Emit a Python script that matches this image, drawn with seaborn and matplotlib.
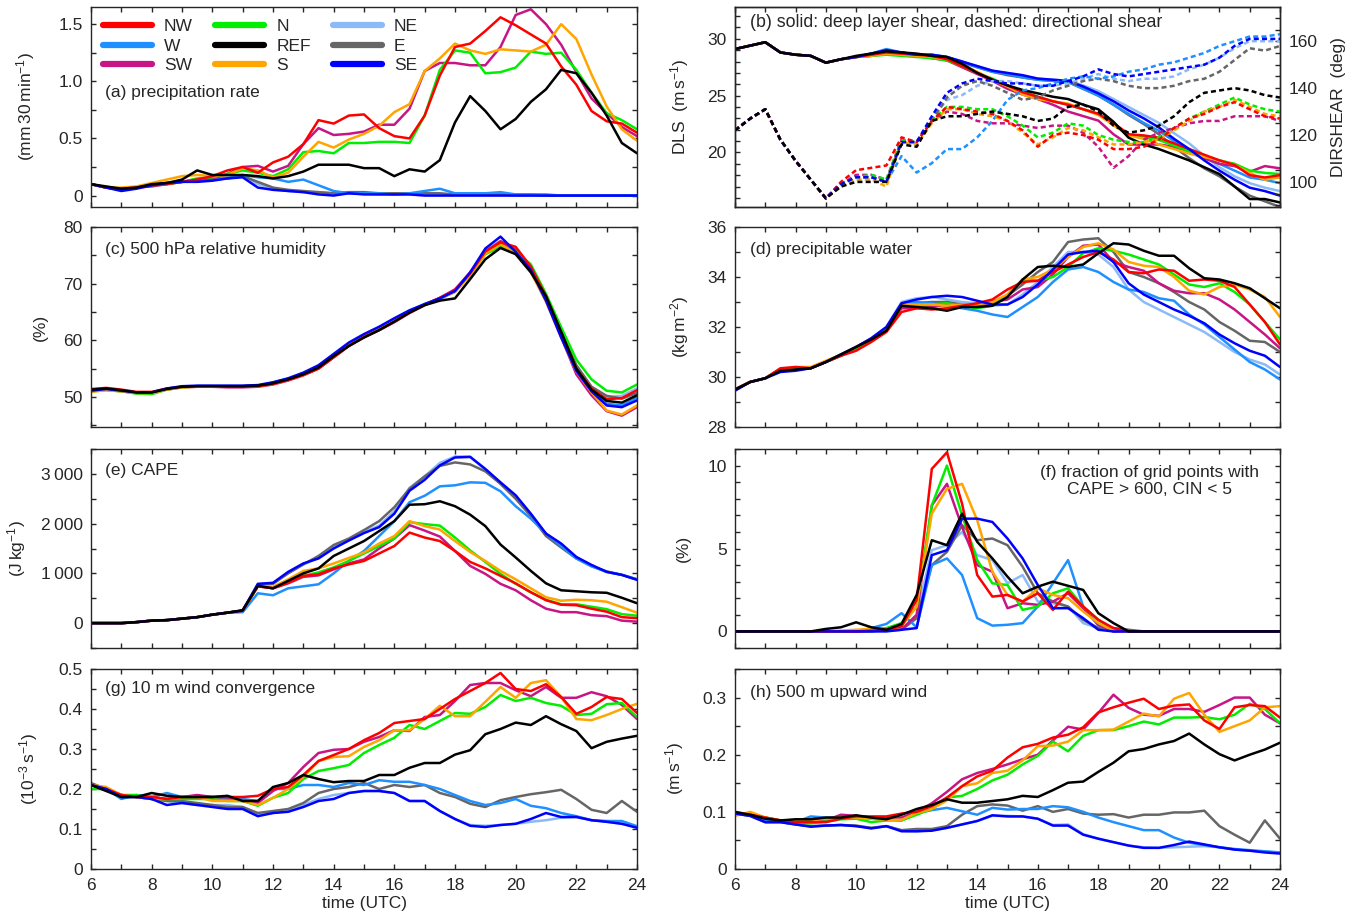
import numpy as np
import pandas as pd
import matplotlib
matplotlib.use('Agg')
import matplotlib.pyplot as plt
from matplotlib.ticker import MultipleLocator, FuncFormatter
from matplotlib.lines import Line2D
import seaborn as sns

sns.set_style('ticks')
plt.rcParams['font.family'] = ['Liberation Sans', 'DejaVu Sans']
plt.rcParams['mathtext.default'] = 'regular'
plt.rcParams['font.size'] = 12
plt.rcParams['axes.linewidth'] = 1.0

# time axis, 30 min output
time = np.arange(6.0, 24.01, 0.5)

exps = ['NW', 'W', 'SW', 'N', 'REF', 'S', 'NE', 'E', 'SE']
draw_order = ['NE', 'E', 'W', 'SW', 'N', 'S', 'NW', 'SE', 'REF']
colors = {'NW': '#ff0000', 'W': '#1e90ff', 'SW': '#c71585', 'N': '#00ee00',
          'REF': '#000000', 'S': '#ffa500', 'NE': '#8cbaf8', 'E': '#666666',
          'SE': '#0000ff'}

# (a) precipitation rate (mm / 30 min)
prec_NW = [0.10,0.07,0.06,0.07,0.09,0.10,0.12,0.14,0.17,0.22, 0.25,0.20,0.29,0.34,0.45,0.66,0.63,0.70,0.71,0.59, 0.52,0.50,0.70,1.05,1.30,1.33,1.44,1.56,1.49,1.41, 1.33,1.13,0.97,0.74,0.65,0.63,0.55]
prec_W = [0.10,0.07,0.05,0.07,0.10,0.11,0.12,0.13,0.14,0.15, 0.18,0.16,0.15,0.12,0.14,0.09,0.04,0.02,0.02,0.02, 0.01,0.02,0.04,0.06,0.02,0.02,0.02,0.03,0.01,0.01, 0.01,0.0,0.0,0.0,0.0,0.0,0.0]
prec_SW = [0.10,0.07,0.06,0.07,0.08,0.10,0.12,0.14,0.15,0.19, 0.25,0.26,0.21,0.26,0.45,0.59,0.53,0.54,0.56,0.62, 0.62,0.76,1.09,1.16,1.16,1.14,1.14,1.30,1.58,1.63, 1.50,1.32,1.08,0.85,0.72,0.60,0.52]
prec_N = [0.10,0.07,0.06,0.07,0.09,0.10,0.12,0.15,0.16,0.19, 0.22,0.20,0.17,0.23,0.38,0.39,0.37,0.46,0.46,0.47, 0.47,0.46,0.70,1.10,1.27,1.25,1.07,1.08,1.12,1.26, 1.24,1.25,1.10,0.90,0.72,0.66,0.58]
prec_REF = [0.10,0.08,0.06,0.07,0.10,0.11,0.14,0.22,0.18,0.18, 0.18,0.17,0.15,0.17,0.21,0.27,0.27,0.27,0.24,0.24, 0.17,0.23,0.21,0.31,0.64,0.87,0.74,0.58,0.67,0.82, 0.93,1.10,1.07,0.90,0.70,0.46,0.37]
prec_S = [0.10,0.07,0.07,0.08,0.11,0.14,0.17,0.18,0.17,0.18, 0.24,0.22,0.16,0.20,0.34,0.47,0.42,0.49,0.54,0.61, 0.73,0.80,1.09,1.20,1.33,1.27,1.24,1.28,1.27,1.26, 1.32,1.50,1.37,1.06,0.78,0.58,0.48]
prec_NE = [0.10,0.07,0.05,0.07,0.10,0.11,0.12,0.13,0.15,0.16, 0.18,0.10,0.06,0.04,0.03,0.03,0.02,0.02,0.02,0.01, 0.01,0.01,0.01,0.01,0.01,0.01,0.01,0.01,0.0,0.0, 0.0,0.0,0.0,0.0,0.0,0.0,0.0]
prec_E = [0.10,0.07,0.05,0.07,0.10,0.11,0.12,0.13,0.14,0.15, 0.17,0.12,0.07,0.05,0.04,0.03,0.02,0.03,0.03,0.02, 0.02,0.02,0.02,0.02,0.01,0.01,0.01,0.01,0.01,0.01, 0.0,0.0,0.0,0.0,0.0,0.0,0.0]
prec_SE = [0.10,0.07,0.04,0.06,0.09,0.11,0.12,0.12,0.13,0.15, 0.16,0.07,0.05,0.04,0.03,0.01,0.00,0.02,0.01,0.01, 0.01,0.01,0.0,0.0,0.0,0.0,0.0,0.0,0.0,0.0, 0.0,0.0,0.0,0.0,0.0,0.0,0.0]

# (b) deep layer shear (m/s)
dls_NW = [29.1,29.4,29.7,28.8,28.6,28.5,27.9,28.2,28.4,28.6, 28.8,28.7,28.6,28.5,28.2,27.6,27.0,26.4,25.9,25.3, 24.9,24.5,24.2,23.8,23.4,22.6,21.6,21.5,21.3,20.8, 20.3,19.8,19.3,18.9,18.0,17.8,18.0]
dls_W = [29.1,29.4,29.7,28.8,28.6,28.5,27.9,28.2,28.4,28.7, 29.1,28.8,28.6,28.6,28.4,28.0,27.5,27.1,26.9,26.6, 26.4,26.3,26.2,25.6,25.0,24.2,23.4,22.6,21.9,21.0, 20.0,19.5,19.0,18.4,17.8,17.6,17.3]
dls_SW = [29.1,29.4,29.7,28.8,28.6,28.5,27.9,28.2,28.4,28.5, 28.7,28.6,28.5,28.3,28.1,27.5,26.9,26.3,25.6,25.1, 24.7,24.2,23.6,23.2,22.8,21.6,20.7,20.7,20.7,20.5, 20.1,19.5,19.0,18.8,18.3,18.8,18.6]
dls_N = [29.1,29.4,29.7,28.8,28.6,28.5,27.9,28.2,28.4,28.5, 28.6,28.5,28.4,28.3,28.1,27.6,27.0,26.5,25.9,25.4, 24.9,24.5,24.2,23.8,23.4,22.5,21.5,21.4,21.1,20.6, 20.1,19.7,19.3,19.0,18.4,18.2,18.1]
dls_REF = [29.1,29.4,29.7,28.8,28.6,28.5,27.9,28.2,28.5,28.7, 28.9,28.8,28.7,28.5,28.4,27.8,27.0,26.4,25.9,25.5, 25.2,24.9,24.7,24.2,23.8,22.7,21.3,20.7,20.3,19.8, 19.3,18.7,18.1,17.0,15.9,15.9,15.6]
dls_S = [29.1,29.4,29.7,28.8,28.6,28.5,27.9,28.2,28.4,28.5, 28.7,28.6,28.5,28.4,28.2,27.7,27.1,26.4,25.8,25.1, 24.7,24.5,24.3,23.8,23.3,22.4,21.5,21.2,20.7,20.3, 19.9,19.6,19.3,18.9,18.2,17.6,17.8]
dls_NE = [29.1,29.4,29.7,28.8,28.6,28.5,27.9,28.2,28.4,28.7, 29.0,28.8,28.6,28.6,28.4,28.0,27.6,27.2,26.9,26.7, 26.5,26.4,26.3,25.9,25.4,24.7,24.0,23.3,22.6,21.7, 20.8,19.7,18.7,17.9,17.3,16.9,16.6]
dls_E = [29.1,29.4,29.7,28.8,28.6,28.5,27.9,28.2,28.4,28.6, 28.9,28.8,28.6,28.5,28.3,27.9,27.5,27.1,26.8,26.6, 26.4,26.3,26.2,25.6,25.0,24.2,23.3,22.5,21.6,20.5, 19.5,18.6,17.9,17.0,16.2,15.7,15.2]
dls_SE = [29.1,29.4,29.7,28.8,28.6,28.5,27.9,28.2,28.4,28.7, 29.0,28.8,28.6,28.6,28.4,28.0,27.6,27.2,27.0,26.8, 26.5,26.4,26.3,25.8,25.2,24.5,23.7,23.0,22.2,21.2, 20.3,19.3,18.4,17.6,16.9,16.6,16.2]

# (b) directional shear (deg), right axis
dir_NW = [122,127,131,118,109,101,93,100,105,106, 107,119,117,126,132,131,130,129,126,122, 115,120,121,120,118,114,114,115,118,123, 127,129,132,134,131,128,127]
dir_W = [122,127,131,118,109,101,93,99,102,102, 100,111,104,108,114,114,119,126,135,139, 140,142,144,145,144,145,147,148,150,151, 153,155,158,160,162,162,163]
dir_SW = [122,127,131,118,109,101,93,99,103,103, 101,118,117,126,130,129,126,125,125,124, 123,124,124,121,115,106,111,118,121,123, 125,126,126,128,128,128,126]
dir_N = [122,127,131,118,109,101,93,99,102,103, 101,118,117,126,132,132,131,131,128,124, 119,121,125,124,120,118,117,117,119,123, 127,130,133,136,133,131,130]
dir_REF = [122,127,131,118,109,101,93,98,100,100, 100,116,115,126,128,128,129,130,129,128, 126,127,132,133,130,124,121,122,124,128, 134,138,139,140,139,137,136]
dir_S = [122,127,131,118,109,101,93,98,101,101, 98,117,116,125,131,131,129,128,126,121, 116,119,123,122,119,116,116,117,118,122, 126,130,132,135,132,129,128]
dir_NE = [122,127,131,118,109,101,93,99,102,102, 100,117,117,127,135,137,141,143,143,142, 141,141,142,144,146,144,143,144,144,145, 148,150,153,157,160,160,160]
dir_E = [122,127,131,118,109,101,93,99,102,102, 100,117,117,126,136,141,143,141,138,135, 136,139,141,143,144,143,141,140,140,141, 143,144,147,152,157,156,158]
dir_SE = [122,127,131,118,109,101,93,99,102,102, 100,117,117,128,138,142,144,143,142,142, 141,141,143,145,148,146,145,146,147,148, 149,150,153,158,161,161,161]

# (c) 500 hPa relative humidity (%)
rh_NW = [51.4,51.6,51.3,50.9,50.9,51.5,51.8,51.9,51.9,51.8, 51.8,51.9,52.3,53.0,53.9,55.0,57.0,59.0,60.6,61.8, 63.3,64.9,66.3,67.5,68.8,71.8,75.7,77.3,76.5,73.0, 67.8,61.3,55.0,51.5,49.6,49.8,51.2]
rh_W = [51.0,51.3,51.0,50.7,50.7,51.4,51.8,51.9,51.9,51.9, 51.9,52.0,52.5,53.2,54.1,55.3,57.3,59.3,60.8,62.1, 63.6,65.1,66.4,67.3,68.6,71.8,75.5,76.4,75.3,72.5, 67.3,60.8,54.7,51.0,48.8,48.5,49.9]
rh_SW = [51.2,51.4,51.1,50.8,50.8,51.3,51.7,51.8,51.8,51.7, 51.7,51.8,52.2,52.9,53.8,55.0,57.0,59.0,60.5,61.8, 63.2,64.8,66.2,67.5,69.0,72.0,75.6,77.5,76.0,72.4, 67.0,60.6,54.0,50.3,47.5,46.7,48.2]
rh_N = [51.0,51.2,51.0,50.6,50.5,51.3,51.7,51.9,51.9,51.9, 51.9,52.0,52.4,53.1,54.0,55.2,57.2,59.1,60.6,61.9, 63.4,65.0,66.3,67.4,68.6,71.5,75.2,76.5,75.7,73.4, 68.2,62.3,56.6,53.1,51.1,50.8,52.2]
rh_REF = [51.3,51.5,51.2,50.8,50.8,51.4,51.8,51.9,51.9,51.9, 51.9,52.0,52.4,53.1,54.0,55.2,57.2,59.0,60.5,61.8, 63.3,64.9,66.2,67.0,67.4,70.8,74.3,76.3,75.2,72.0, 67.8,61.5,55.0,51.3,49.3,49.0,50.3]
rh_S = [50.9,51.2,51.0,50.7,50.7,51.3,51.7,51.8,51.8,51.8, 51.8,51.9,52.3,53.0,53.9,55.1,57.1,59.1,60.6,61.9, 63.4,65.0,66.3,67.5,68.5,71.5,75.3,77.0,75.3,72.0, 66.8,60.5,54.5,50.8,47.6,46.9,48.5]
rh_NE = [51.2,51.4,51.1,50.8,50.8,51.4,51.8,51.9,51.9,51.9, 51.9,52.0,52.5,53.2,54.1,55.3,57.3,59.2,60.8,62.1, 63.6,65.1,66.3,67.4,68.7,71.8,75.8,77.5,75.8,72.8, 67.6,61.3,55.5,51.8,50.0,50.2,51.5]
rh_E = [51.2,51.4,51.1,50.8,50.8,51.4,51.8,51.9,51.9,51.9, 51.9,52.0,52.5,53.2,54.1,55.3,57.3,59.2,60.8,62.1, 63.6,65.1,66.3,67.4,68.7,71.6,75.5,77.0,75.6,72.6, 67.8,61.6,55.6,51.8,50.2,49.7,50.7]
rh_SE = [51.1,51.4,51.1,50.8,50.8,51.5,51.9,52.0,52.0,52.0, 52.0,52.1,52.6,53.3,54.3,55.6,57.6,59.6,61.1,62.4, 63.9,65.3,66.4,67.4,68.7,72.0,76.2,78.3,75.6,72.4, 67.0,60.5,54.6,51.0,48.5,48.2,49.4]

# (d) precipitable water (kg m-2)
pw_NW = [29.5,29.8,29.95,30.35,30.4,30.35,30.6,30.85,31.05,31.4, 31.8,32.6,32.75,32.7,32.75,32.85,32.95,33.1,33.5,33.8, 33.85,34.2,34.5,34.8,35.0,34.7,34.2,34.15,34.3,34.25, 33.85,33.9,33.85,33.6,32.9,32.2,31.3]
pw_W = [29.5,29.8,29.95,30.3,30.35,30.35,30.6,30.9,31.2,31.5, 31.9,32.9,33.0,32.95,32.85,32.75,32.65,32.5,32.4,32.8, 33.2,33.8,34.3,34.4,34.2,33.8,33.5,33.4,33.15,33.05, 32.5,32.1,31.6,31.1,30.6,30.3,29.9]
pw_SW = [29.5,29.8,29.95,30.3,30.35,30.35,30.6,30.85,31.15,31.45, 31.85,32.75,32.75,32.8,32.9,32.9,32.9,33.0,33.1,33.5, 33.6,34.1,34.8,35.25,35.3,34.6,34.4,34.25,33.75,33.45, 33.35,33.35,33.1,32.7,32.2,31.7,31.15]
pw_N = [29.5,29.8,29.95,30.3,30.35,30.35,30.6,30.85,31.15,31.45, 31.85,32.85,32.85,32.9,32.95,32.85,32.75,32.85,33.3,33.9, 33.85,34.0,34.4,34.95,35.15,35.05,34.9,34.7,34.5,34.1, 33.7,33.6,33.75,33.4,32.9,32.2,31.5]
pw_REF = [29.5,29.8,29.95,30.25,30.3,30.35,30.6,30.9,31.2,31.5, 31.85,32.85,32.8,32.75,32.65,32.8,32.8,32.85,33.2,33.9, 34.4,34.45,34.4,34.5,34.95,35.35,35.3,35.05,34.85,34.85, 34.35,33.95,33.9,33.75,33.55,33.15,32.75]
pw_S = [29.5,29.8,29.95,30.3,30.4,30.4,30.65,30.9,31.2,31.5, 31.85,32.9,32.9,32.9,32.85,32.9,32.9,33.0,33.3,33.9, 34.0,34.3,34.8,35.2,35.35,35.1,34.6,34.45,34.4,34.0, 33.45,33.3,33.6,33.7,33.5,33.2,32.4]
pw_NE = [29.5,29.8,29.95,30.3,30.3,30.35,30.6,30.9,31.2,31.55, 32.0,33.0,33.15,33.2,33.1,33.0,32.95,32.85,32.9,33.3, 33.8,34.4,35.0,35.0,34.9,34.4,33.5,33.0,32.7,32.4, 32.1,31.8,31.4,31.0,30.7,30.5,30.1]
pw_E = [29.5,29.8,29.95,30.3,30.35,30.35,30.6,30.9,31.2,31.5, 31.9,32.9,32.95,33.0,33.0,32.9,32.85,33.0,33.25,33.7, 34.2,34.6,35.4,35.5,35.55,35.0,34.2,34.0,33.75,33.4, 33.0,32.7,32.2,31.85,31.45,31.4,31.0]
pw_SE = [29.45,29.8,29.95,30.2,30.25,30.35,30.6,30.9,31.2,31.55, 32.0,32.95,33.1,33.2,33.25,33.2,33.05,32.9,32.9,33.2, 33.7,34.3,34.9,35.0,35.05,34.6,33.75,33.3,33.0,32.7, 32.45,32.15,31.7,31.35,31.05,30.85,30.4]

# (e) CAPE (J/kg)
cape_NW = [0,0,0,20,50,60,90,120,170,210, 250,740,700,810,950,980,1100,1180,1250,1400, 1550,1820,1720,1650,1450,1230,1100,950,800,620, 460,370,360,290,230,120,100]
cape_W = [0,0,0,20,50,60,90,120,170,210, 220,600,560,700,740,780,1000,1250,1450,1750, 2050,2430,2560,2750,2770,2830,2820,2650,2350,2100, 1800,1550,1300,1140,1030,970,880]
cape_SW = [0,0,0,20,50,60,90,120,170,210, 250,740,700,800,930,960,1080,1200,1280,1500, 1700,1970,1860,1740,1450,1150,990,790,660,460, 290,220,220,160,140,50,30]
cape_N = [0,0,0,20,50,60,90,120,170,210, 250,740,720,820,950,1020,1120,1250,1400,1550, 1700,2030,1990,1960,1720,1460,1230,990,790,620, 470,380,380,330,280,180,150]
cape_REF = [0,0,0,20,50,60,90,120,170,210, 260,750,700,850,1000,1100,1350,1500,1650,1850, 2050,2380,2390,2450,2350,2180,1950,1580,1320,1050, 800,660,640,620,610,510,400]
cape_S = [0,0,0,20,50,60,90,120,170,210, 250,740,730,880,1050,1100,1200,1310,1420,1600, 1750,2050,1950,1880,1650,1430,1250,1050,880,700, 520,450,470,460,430,320,210]
cape_NE = [0,0,0,20,50,60,90,120,170,210, 250,780,800,1010,1180,1310,1520,1680,1830,1960, 2250,2720,2950,3220,3350,3350,3080,2800,2520,2180, 1780,1580,1320,1160,1030,970,880]
cape_E = [0,0,0,20,50,60,90,120,170,210, 250,770,790,1000,1180,1350,1570,1700,1870,2050, 2330,2700,2950,3160,3230,3190,3050,2800,2500,2150, 1750,1520,1300,1150,1040,970,880]
cape_SE = [0,0,0,20,50,60,90,120,170,210, 250,790,810,1030,1200,1300,1500,1660,1810,1930, 2200,2660,2880,3170,3330,3340,3100,2830,2570,2200, 1800,1600,1330,1170,1030,970,870]

# (f) fraction of grid points with CAPE > 600, CIN < 5 (%)
frac_NW = [0,0,0,0,0,0,0,0,0,0.05, 0.1,0.3,1.9,9.8,10.8,7.7,3.4,2.1,2.2,1.8, 2.3,1.3,2.4,1.5,0.7,0.2,0,0,0,0, 0,0,0,0,0,0,0]
frac_W = [0,0,0,0,0,0,0,0,0,0.2, 0.45,1.1,0.25,4.0,4.4,3.4,0.8,0.35,0.4,0.5, 1.5,2.9,4.3,1.5,0.35,0,0,0,0,0, 0,0,0,0,0,0,0]
frac_SW = [0,0,0,0,0,0,0,0,0,0.05, 0.05,0.1,1.0,7.6,8.9,6.3,4.0,3.6,1.4,1.7, 1.6,1.8,2.3,1.4,0.4,0,0,0,0,0, 0,0,0,0,0,0,0]
frac_N = [0,0,0,0,0,0,0,0,0.05,0.1, 0.2,0.5,1.5,7.6,10.0,7.0,4.3,2.9,2.8,1.3, 1.5,2.3,2.6,1.5,0.7,0.1,0,0,0,0, 0,0,0,0,0,0,0]
frac_REF = [0,0,0,0,0,0,0.15,0.25,0.55,0.25, 0.1,0.45,2.2,5.5,5.2,7.1,5.4,4.4,3.3,2.3, 2.7,3.0,2.75,2.5,1.1,0.5,0,0,0,0, 0,0,0,0,0,0,0]
frac_S = [0,0,0,0,0,0,0,0.05,0.1,0.15, 0.1,0.3,1.5,7.1,8.6,8.9,6.7,3.6,2.2,1.8, 2.6,2.2,2.0,1.2,0.5,0.05,0,0,0,0, 0,0,0,0,0,0,0]
frac_NE = [0,0,0,0,0,0,0,0,0,0, 0.1,0.1,1.0,4.9,5.2,6.0,4.6,4.3,2.9,3.4, 1.8,1.7,1.5,0.5,0.2,0,0,0,0,0, 0,0,0,0,0,0,0]
frac_E = [0,0,0,0,0,0,0,0,0,0, 0.1,0.1,0.8,4.0,4.8,6.4,5.5,5.6,5.2,3.9, 2.3,1.8,1.5,0.7,0.2,0.2,0.1,0,0,0, 0,0,0,0,0,0,0]
frac_SE = [0,0,0,0,0,0,0,0,0,0, 0,0.1,0.2,4.6,4.9,6.8,6.8,6.6,5.6,4.4, 2.8,1.4,1.4,0.8,0.1,0,0,0,0,0, 0,0,0,0,0,0,0]

# (g) 10 m wind convergence (1e-3 /s)
conv_NW = [0.21,0.20,0.185,0.18,0.18,0.175,0.18,0.18,0.18,0.18, 0.18,0.183,0.20,0.205,0.235,0.27,0.285,0.30,0.322,0.34, 0.365,0.37,0.375,0.40,0.425,0.445,0.465,0.49,0.45,0.445, 0.462,0.43,0.388,0.405,0.43,0.425,0.39]
conv_W = [0.21,0.20,0.175,0.185,0.18,0.19,0.18,0.18,0.18,0.175, 0.175,0.17,0.20,0.20,0.21,0.21,0.205,0.215,0.21,0.222, 0.218,0.218,0.21,0.20,0.185,0.17,0.16,0.165,0.175,0.158, 0.152,0.14,0.132,0.122,0.12,0.12,0.107]
conv_SW = [0.21,0.20,0.185,0.18,0.18,0.175,0.18,0.185,0.18,0.18, 0.17,0.165,0.195,0.215,0.255,0.29,0.298,0.30,0.318,0.33, 0.347,0.345,0.38,0.385,0.42,0.46,0.465,0.465,0.447,0.432, 0.455,0.428,0.428,0.442,0.432,0.41,0.375]
conv_N = [0.20,0.20,0.185,0.185,0.175,0.175,0.175,0.175,0.175,0.17, 0.17,0.158,0.178,0.19,0.225,0.245,0.252,0.26,0.29,0.31, 0.328,0.36,0.35,0.37,0.39,0.388,0.405,0.435,0.42,0.428, 0.415,0.408,0.385,0.388,0.412,0.415,0.38]
conv_REF = [0.21,0.195,0.18,0.18,0.19,0.183,0.18,0.18,0.18,0.183, 0.17,0.17,0.205,0.215,0.235,0.225,0.217,0.22,0.22,0.235, 0.235,0.253,0.265,0.265,0.286,0.297,0.337,0.35,0.366,0.36, 0.382,0.362,0.345,0.302,0.318,0.326,0.333]
conv_S = [0.21,0.205,0.185,0.18,0.175,0.175,0.18,0.18,0.17,0.17, 0.17,0.16,0.178,0.20,0.23,0.27,0.28,0.282,0.305,0.322, 0.347,0.347,0.375,0.408,0.382,0.382,0.418,0.455,0.428,0.465, 0.472,0.43,0.375,0.372,0.385,0.40,0.413]
conv_NE = [0.21,0.20,0.18,0.18,0.175,0.17,0.165,0.16,0.16,0.16, 0.155,0.135,0.14,0.145,0.16,0.175,0.185,0.19,0.195,0.195, 0.19,0.17,0.17,0.145,0.125,0.11,0.108,0.11,0.113,0.118, 0.122,0.128,0.13,0.122,0.118,0.113,0.105]
conv_E = [0.215,0.20,0.185,0.18,0.175,0.17,0.17,0.165,0.16,0.155, 0.155,0.14,0.145,0.15,0.165,0.19,0.20,0.205,0.215,0.20, 0.21,0.205,0.21,0.19,0.18,0.163,0.155,0.172,0.18,0.187, 0.192,0.198,0.175,0.148,0.14,0.17,0.143]
conv_SE = [0.21,0.20,0.18,0.18,0.175,0.16,0.165,0.16,0.155,0.15, 0.15,0.132,0.14,0.143,0.155,0.17,0.175,0.19,0.195,0.195, 0.19,0.17,0.17,0.145,0.125,0.108,0.105,0.11,0.113,0.125, 0.14,0.13,0.13,0.122,0.118,0.113,0.103]

# (h) 500 m upward wind (m/s)
w_NW = [0.097,0.095,0.09,0.085,0.082,0.082,0.082,0.088,0.092,0.092, 0.092,0.097,0.10,0.11,0.125,0.145,0.162,0.172,0.195,0.213, 0.219,0.23,0.235,0.248,0.274,0.283,0.291,0.298,0.28,0.286, 0.288,0.26,0.245,0.283,0.287,0.285,0.265]
w_W = [0.097,0.095,0.085,0.085,0.082,0.092,0.09,0.09,0.09,0.088, 0.088,0.085,0.098,0.103,0.107,0.101,0.095,0.107,0.104,0.105, 0.105,0.11,0.108,0.10,0.09,0.082,0.075,0.068,0.068,0.055, 0.046,0.042,0.038,0.035,0.033,0.031,0.029]
w_SW = [0.097,0.095,0.09,0.085,0.082,0.082,0.085,0.095,0.093,0.09, 0.09,0.09,0.10,0.115,0.135,0.157,0.168,0.175,0.183,0.192, 0.20,0.225,0.249,0.244,0.273,0.305,0.282,0.27,0.268,0.28, 0.28,0.275,0.287,0.30,0.30,0.27,0.255]
w_N = [0.095,0.098,0.09,0.085,0.08,0.08,0.083,0.087,0.088,0.082, 0.085,0.085,0.095,0.105,0.125,0.128,0.14,0.155,0.165,0.183, 0.198,0.223,0.206,0.233,0.243,0.243,0.25,0.258,0.253,0.265, 0.265,0.266,0.262,0.27,0.289,0.28,0.255]
w_REF = [0.10,0.095,0.088,0.085,0.087,0.087,0.09,0.09,0.094,0.09, 0.087,0.095,0.105,0.112,0.122,0.116,0.116,0.119,0.122,0.128, 0.126,0.138,0.151,0.153,0.17,0.186,0.206,0.21,0.218,0.224, 0.237,0.218,0.201,0.19,0.20,0.209,0.221]
w_S = [0.093,0.10,0.09,0.085,0.083,0.085,0.088,0.09,0.09,0.088, 0.086,0.086,0.098,0.105,0.12,0.145,0.15,0.168,0.172,0.19, 0.215,0.216,0.223,0.243,0.243,0.244,0.258,0.272,0.267,0.298, 0.308,0.27,0.24,0.25,0.26,0.283,0.285]
w_NE = [0.097,0.093,0.082,0.082,0.078,0.075,0.076,0.077,0.075,0.072, 0.075,0.067,0.066,0.068,0.072,0.078,0.084,0.093,0.093,0.092, 0.088,0.077,0.078,0.061,0.053,0.047,0.041,0.038,0.037,0.038, 0.039,0.04,0.038,0.034,0.032,0.03,0.029]
w_E = [0.097,0.093,0.082,0.082,0.078,0.075,0.076,0.077,0.076,0.072, 0.075,0.068,0.07,0.07,0.075,0.095,0.11,0.113,0.111,0.102, 0.11,0.10,0.105,0.097,0.095,0.096,0.09,0.095,0.095,0.099, 0.099,0.102,0.075,0.06,0.046,0.085,0.053]
w_SE = [0.097,0.093,0.082,0.082,0.078,0.074,0.076,0.077,0.075,0.071, 0.075,0.066,0.066,0.067,0.072,0.078,0.084,0.094,0.092,0.092, 0.088,0.076,0.076,0.06,0.053,0.047,0.041,0.037,0.037,0.042, 0.048,0.043,0.038,0.034,0.032,0.029,0.027]


def long_table(prefix):
    g = globals()
    frames = [pd.DataFrame({'time': time, 'value': g[prefix + e], 'exp': e}) for e in exps]
    return pd.concat(frames, ignore_index=True)


def draw(ax, prefix, **kw):
    df = long_table(prefix)
    sns.lineplot(data=df, x='time', y='value', hue='exp', hue_order=draw_order,
                 palette=colors, estimator=None, legend=False, ax=ax,
                 linewidth=1.8, **kw)
    ax.set_xlabel('')
    ax.set_ylabel('')


def style(ax, ylim, major, minor, ylabel, bottom=False, fmt=None, pad=11):
    ax.set_xlim(6, 24)
    ax.set_ylim(*ylim)
    ax.xaxis.set_major_locator(MultipleLocator(2))
    ax.xaxis.set_minor_locator(MultipleLocator(1))
    ax.yaxis.set_major_locator(MultipleLocator(major))
    ax.yaxis.set_minor_locator(MultipleLocator(minor))
    ax.tick_params(which='both', direction='in', top=True, right=True,
                   labelsize=12.5, length=3.5, width=1)
    ax.tick_params(axis='y', which='major', pad=6)
    ax.tick_params(axis='x', which='major', pad=6.5)
    if fmt is not None:
        ax.yaxis.set_major_formatter(FuncFormatter(fmt))
    if bottom:
        ax.set_xlabel('time (UTC)', fontsize=12.5, labelpad=2)
    else:
        ax.tick_params(labelbottom=False)
    ax.set_ylabel(ylabel, fontsize=12.5, labelpad=pad)


def f_dec1(v, p):
    return '0' if abs(v) < 1e-9 else f'{v:.1f}'


def f_thou(v, p):
    v = int(round(v))
    if v == 0:
        return '0'
    return f'{v // 1000}\u2009{v % 1000:03d}'


fig = plt.figure(figsize=(13.62, 9.18), dpi=100)
W = 1362
H = 918


def axes_at(x0, x1, y0, y1):
    return fig.add_axes([x0 / W, 1 - y1 / H, (x1 - x0) / W, (y1 - y0) / H])


rows = [(7, 207), (227, 427), (449, 648), (669, 869)]
lx = (91, 637)
rx = (735, 1280)

ax_a = axes_at(lx[0], lx[1], *rows[0])
ax_b = axes_at(rx[0], rx[1], *rows[0])
ax_c = axes_at(lx[0], lx[1], *rows[1])
ax_d = axes_at(rx[0], rx[1], *rows[1])
ax_e = axes_at(lx[0], lx[1], *rows[2])
ax_f = axes_at(rx[0], rx[1], *rows[2])
ax_g = axes_at(lx[0], lx[1], *rows[3])
ax_h = axes_at(rx[0], rx[1], *rows[3])

# (a)
draw(ax_a, 'prec_')
style(ax_a, (-0.1, 1.65), 0.5, 0.25, r'(mm$\,$30$\,$min$^{-1}$)', fmt=f_dec1, pad=15)
ax_a.text(0.025, 0.575, '(a) precipitation rate', transform=ax_a.transAxes,
          ha='left', va='center', fontsize=12.5)
handles = [Line2D([], [], color=colors[e], lw=4.5) for e in exps]
ax_a.legend(handles, exps, ncol=3, loc='upper left', frameon=False,
            handlelength=2.8, handletextpad=0.7, columnspacing=1.3,
            labelspacing=0.25, borderaxespad=0.3, fontsize=12.5)

# (b)
draw(ax_b, 'dls_')
style(ax_b, (15.2, 32.8), 5, 1, r'DLS  (m$\,$s$^{-1}$)', pad=12)
ax_b.tick_params(which='both', right=False)
ax_b2 = ax_b.twinx()
draw(ax_b2, 'dir_', linestyle=(0, (2.0, 1.3)))
ax_b2.set_ylim(89.3, 174.6)
ax_b2.yaxis.set_major_locator(MultipleLocator(20))
ax_b2.yaxis.set_minor_locator(MultipleLocator(5))
ax_b2.tick_params(which='both', direction='in', labelsize=12.5, length=3.5, width=1)
ax_b2.tick_params(which='major', pad=6)
ax_b2.set_ylabel('DIRSHEAR  (deg)', fontsize=12.5, labelpad=10)
ax_b.text(0.028, 0.92, '(b) solid: deep layer shear, dashed: directional shear',
          transform=ax_b.transAxes, ha='left', va='center', fontsize=12.8)

# (c)
draw(ax_c, 'rh_')
style(ax_c, (44.7, 80), 10, 5, '(%)')
ax_c.text(0.025, 0.885, '(c) 500 hPa relative humidity', transform=ax_c.transAxes,
          ha='left', va='center', fontsize=12.5)

# (d)
draw(ax_d, 'pw_')
style(ax_d, (28, 36), 2, 1, r'(kg$\,$m$^{-2}$)', pad=12)
ax_d.text(0.028, 0.885, '(d) precipitable water', transform=ax_d.transAxes,
          ha='left', va='center', fontsize=12.5)

# (e)
draw(ax_e, 'cape_')
style(ax_e, (-500, 3500), 1000, 500, r'(J$\,$kg$^{-1}$)', fmt=f_thou, pad=9)
ax_e.text(0.025, 0.89, '(e) CAPE', transform=ax_e.transAxes,
          ha='left', va='center', fontsize=12.5)

# (f)
draw(ax_f, 'frac_')
style(ax_f, (-1, 11), 5, 1, '(%)', pad=12)
ax_f.text(0.76, 0.84, '(f) fraction of grid points with\nCAPE > 600, CIN < 5',
          transform=ax_f.transAxes, ha='center', va='center', fontsize=12.5,
          linespacing=1.15)

# (g)
draw(ax_g, 'conv_')
style(ax_g, (0, 0.5), 0.1, 0.05, r'(10$^{-3}$$\,$s$^{-1}$)', bottom=True, fmt=f_dec1, pad=13)
ax_g.text(0.025, 0.9, '(g) 10 m wind convergence', transform=ax_g.transAxes,
          ha='left', va='center', fontsize=12.5)

# (h)
draw(ax_h, 'w_')
style(ax_h, (0, 0.35), 0.1, 0.05, r'(m$\,$s$^{-1}$)', bottom=True, fmt=f_dec1, pad=12)
ax_h.text(0.028, 0.885, '(h) 500 m upward wind', transform=ax_h.transAxes,
          ha='left', va='center', fontsize=12.5)

fig.savefig('out.png', dpi=100)
